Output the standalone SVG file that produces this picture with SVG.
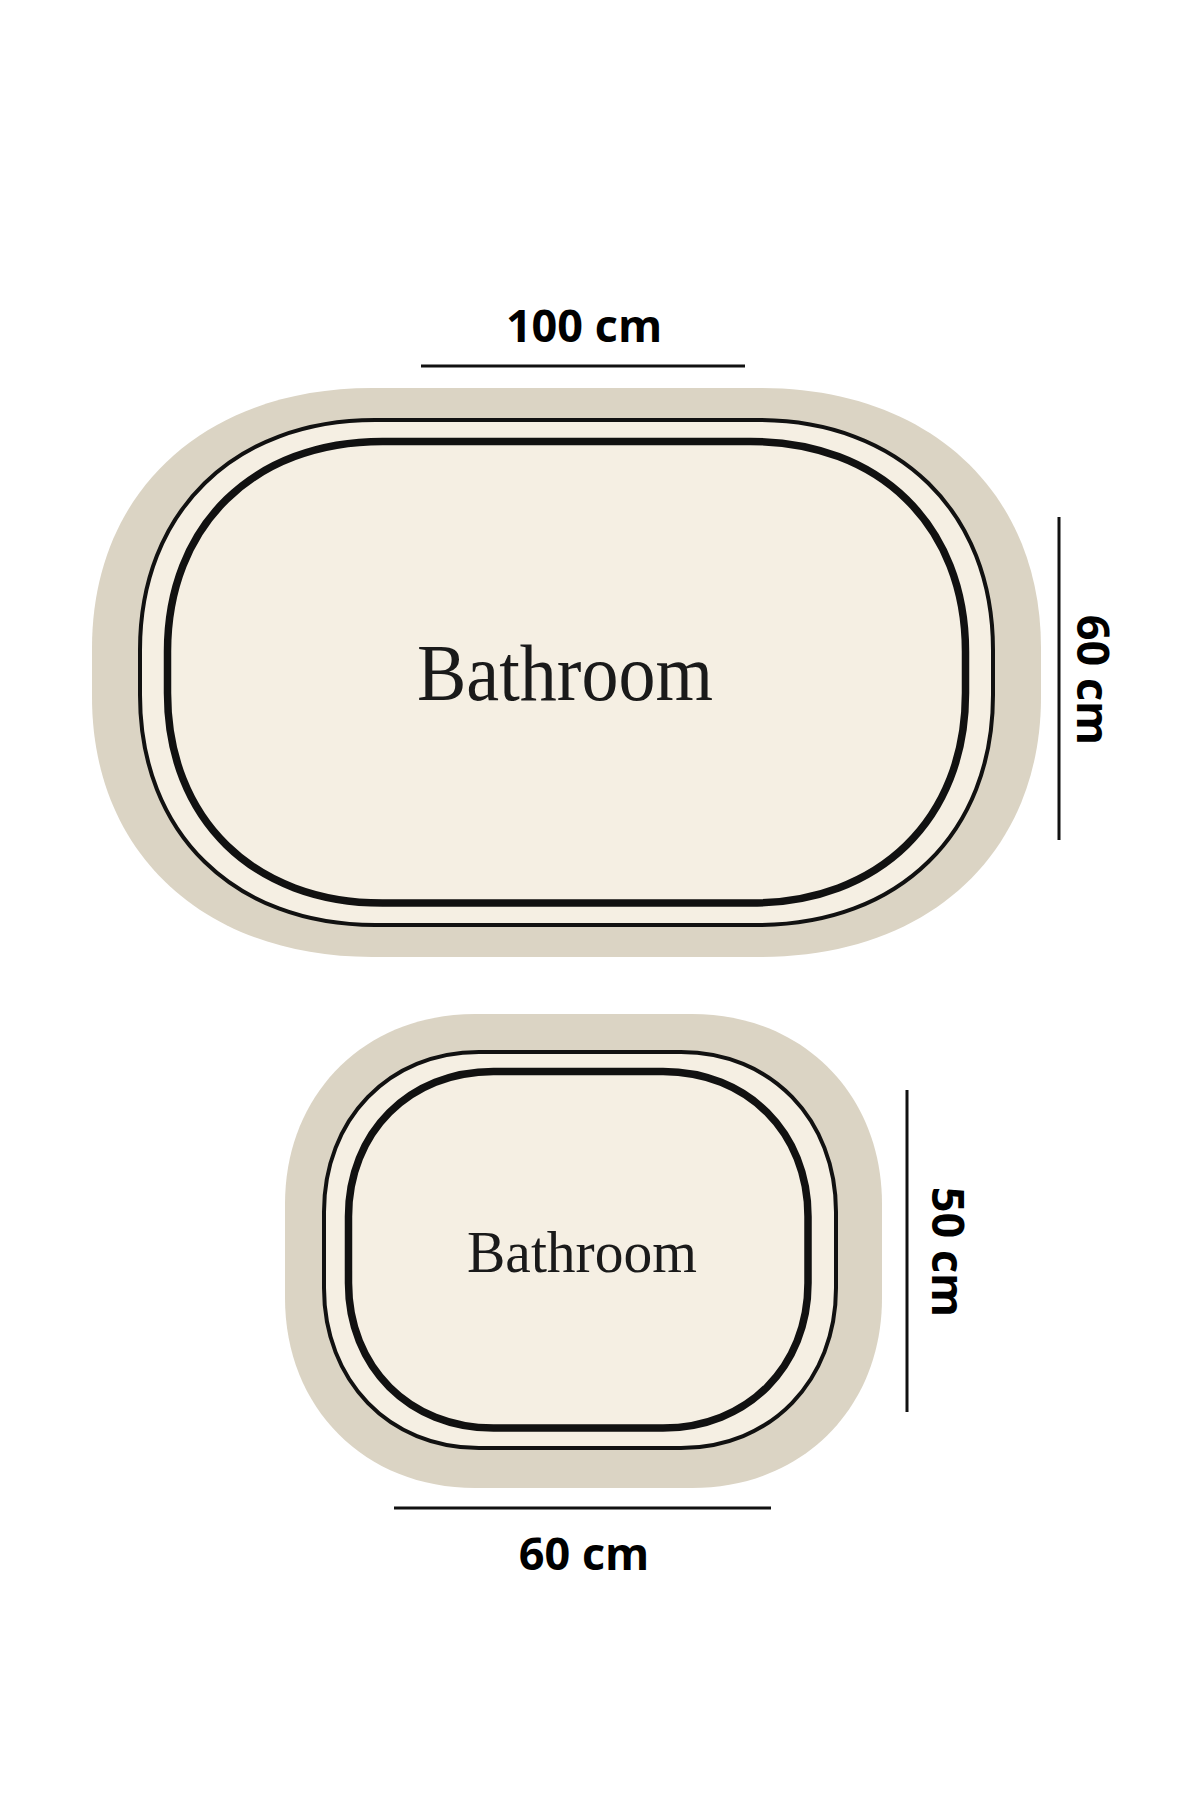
<svg xmlns="http://www.w3.org/2000/svg" width="1200" height="1800" viewBox="0 0 1200 1800">
  <style>
    .rim { fill: #dbd4c4; }
    .field { fill: #f5efe3; stroke: #111; stroke-width: 4; }
    .band { fill: none; stroke: #111; stroke-width: 7.5; }
    .word { font-family: "Liberation Serif", "DejaVu Serif", serif; fill: #1a1a1a; text-anchor: middle; }
    .dim { font-family: "Open Sans", "Liberation Sans", sans-serif; font-weight: 700; font-size: 45px; fill: #000; text-anchor: middle; }
    .dimline { stroke: #111; stroke-width: 3; fill: none; }
  </style>
  <rect x="0" y="0" width="1200" height="1800" fill="#ffffff"/>

  <g id="mat-large">
    <path class="rim" d="M372,388 H761 C929,388 1041,492 1041,648 V697 C1041,853 929,957 761,957 H372 C204,957 92,853 92,697 V648 C92,492 204,388 372,388 Z"/>
    <path class="field" d="M375,420 H758 C899,420 993,512 993,650 V695 C993,833 899,925 758,925 H375 C234,925 140,833 140,695 V650 C140,512 234,420 375,420 Z"/>
    <path class="band" d="M382.5,441.5 H750.5 C879.5,441.5 965.5,525.5 965.5,651.5 V693 C965.5,819 879.5,903 750.5,903 H382.5 C253.5,903 167.5,819 167.5,693 V651.5 C167.5,525.5 253.5,441.5 382.5,441.5 Z"/>
    <text class="word" x="565" y="700" font-size="80" textLength="296" lengthAdjust="spacingAndGlyphs">Bathroom</text>
  </g>

  <g id="mat-small">
    <path class="rim" d="M475,1014 H692 C802.2,1014 882,1093.8 882,1204 V1298 C882,1408.2 802.2,1488 692,1488 H475 C364.8,1488 285,1408.2 285,1298 V1204 C285,1093.8 364.8,1014 475,1014 Z"/>
    <path class="field" d="M479,1052 H681 C770.9,1052 836,1119.2 836,1212 V1288 C836,1380.8 770.9,1448 681,1448 H479 C389.1,1448 324,1380.8 324,1288 V1212 C324,1119.2 389.1,1052 479,1052 Z"/>
    <path class="band" d="M493.5,1071.5 H663 C747.1,1071.5 808,1132.4 808,1216.5 V1283 C808,1367.1 747.1,1428 663,1428 H493.5 C409.4,1428 348.5,1367.1 348.5,1283 V1216.5 C348.5,1132.4 409.4,1071.5 493.5,1071.5 Z"/>
    <text class="word" x="582" y="1272" font-size="60" textLength="230" lengthAdjust="spacingAndGlyphs">Bathroom</text>
  </g>

  <g id="dimension-lines">
    <line class="dimline" x1="421" y1="366" x2="745" y2="366"/>
    <line class="dimline" x1="1059" y1="517" x2="1059" y2="840"/>
    <line class="dimline" x1="907" y1="1090" x2="907" y2="1412"/>
    <line class="dimline" x1="394" y1="1508" x2="771" y2="1508"/>
  </g>

  <g id="label-100cm">
    <text class="dim" x="584" y="342">100 cm</text>
  </g>
  <g id="label-60cm-large">
    <text class="dim" transform="translate(1077,680) rotate(90)" x="0" y="0">60 cm</text>
  </g>
  <g id="label-50cm">
    <text class="dim" transform="translate(932,1252) rotate(90)" x="0" y="0">50 cm</text>
  </g>
  <g id="label-60cm-small">
    <text class="dim" x="584" y="1570">60 cm</text>
  </g>
</svg>
